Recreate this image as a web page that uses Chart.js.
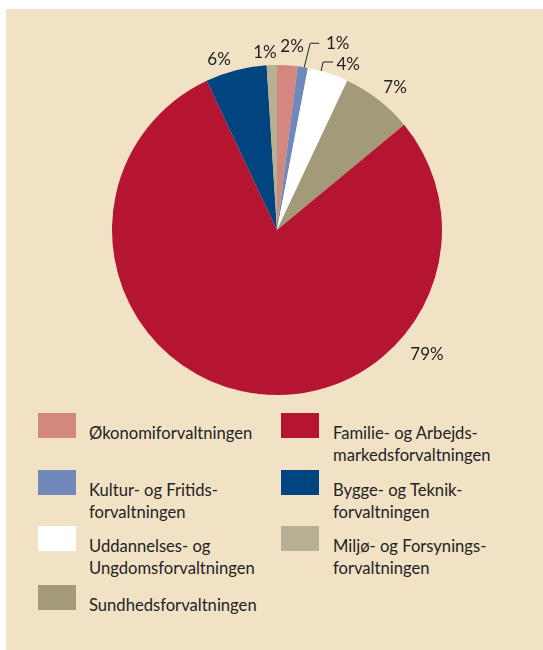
<!DOCTYPE html>
<html>
<head>
<meta charset="utf-8">
<script src="https://cdn.jsdelivr.net/npm/chart.js@4/dist/chart.umd.min.js"></script>
<style>
  html, body { margin: 0; padding: 0; background: #fff; }
  #wrap { position: relative; width: 543px; height: 650px; overflow: hidden; }
  #panel { position: absolute; left: 6px; top: 9px; right: 0; bottom: 0; background: #F1E2C6; }
  #chartBox { position: absolute; left: 0; top: 0; width: 543px; height: 400px; }
  .item { position: absolute; font-family: "Lato", sans-serif; font-size: 16.6px; color: #232323; line-height: 22px; }
  .sw { position: absolute; width: 38px; height: 25px; }
  .txt { position: absolute; white-space: nowrap; }
</style>
</head>
<body>
<div id="wrap">
  <div id="panel"></div>
  <div id="chartBox"><canvas id="pie"></canvas></div>
  <div id="legend"></div>
</div>
<script>
// kategorier i urets retning fra toppen
const categories = [
    ["Økonomiforvaltningen"],
    ["Kultur- og Fritids-", "forvaltningen"],
    ["Uddannelses- og", "Ungdomsforvaltningen"],
    ["Sundhedsforvaltningen"],
    ["Familie- og Arbejds-", "markedsforvaltningen"],
    ["Bygge- og Teknik-", "forvaltningen"],
    ["Miljø- og Forsynings-", "forvaltningen"]
];
const shares = [2, 1, 4, 7, 79, 6, 1];
const percentLabels = ["2%", "1%", "4%", "7%", "79%", "6%", "1%"];
const colors = ["#D4877E", "#7089BA", "#FFFFFF", "#A39A79", "#B51531", "#004580", "#B8B095"];

// label placering: vinkel (grader fra top) og afstand i forhold til radius
const labelPlace = [
    { a: 4.7, r: 1.115 },
    { a: 18.0, r: 1.19, leader: { a: 9.5, dx: 6, dy: -24, h: 9 } },
    { a: 23.3, r: 1.09, leader: { a: 15.5, dx: 2, dy: -9, h: 10 } },
    { a: 39.7, r: 1.12 },
    { a: 129.6, r: 1.18 },
    { a: -18.8, r: 1.09 },
    { a: -3.9, r: 1.08 }
];

const pieLabels = {
    id: "pieLabels",
    afterDraw(chart) {
        const ctx = chart.ctx;
        const arc = chart.getDatasetMeta(0).data[0];
        const cx = arc.x, cy = arc.y, R = arc.outerRadius;
        ctx.save();
        ctx.font = "17px Lato, sans-serif";
        ctx.fillStyle = "#232323";
        ctx.textAlign = "center";
        ctx.textBaseline = "middle";
        percentLabels.forEach((t, i) => {
            const p = labelPlace[i];
            const rad = p.a * Math.PI / 180;
            ctx.fillText(t, cx + Math.sin(rad) * R * p.r, cy - Math.cos(rad) * R * p.r);
            if (p.leader) {
                const l = p.leader;
                const lr = l.a * Math.PI / 180;
                const x0 = cx + Math.sin(lr) * R, y0 = cy - Math.cos(lr) * R;
                ctx.beginPath();
                ctx.strokeStyle = "#232323";
                ctx.lineWidth = 1;
                ctx.moveTo(x0, y0);
                ctx.lineTo(x0 + l.dx, y0 + l.dy);
                ctx.lineTo(x0 + l.dx + l.h, y0 + l.dy);
                ctx.stroke();
            }
        });
        ctx.restore();
    }
};

new Chart(document.getElementById("pie"), {
    type: "pie",
    data: {
        labels: categories.map(c => c.join(" ")),
        datasets: [{
            data: shares,
            backgroundColor: colors,
            borderWidth: 0
        }]
    },
    options: {
        responsive: true,
        maintainAspectRatio: false,
        animation: false,
        layout: { padding: { left: 112, right: 101, top: 65, bottom: 5 } },
        plugins: {
            legend: { display: false },
            tooltip: { enabled: false }
        }
    },
    plugins: [pieLabels]
});

// legende i to kolonner
const legend = document.getElementById("legend");
const colX = [[38, 89], [281, 333]];
const rowY = [413, 470, 526, 585];
categories.forEach((lines, i) => {
    const col = i < 4 ? 0 : 1;
    const row = i < 4 ? i : i - 4;
    const item = document.createElement("div");
    item.className = "item";
    item.style.left = "0px";
    item.style.top = "0px";
    const sw = document.createElement("div");
    sw.className = "sw";
    sw.style.left = colX[col][0] + "px";
    sw.style.top = rowY[row] + "px";
    sw.style.background = colors[i];
    const txt = document.createElement("div");
    txt.className = "txt";
    txt.style.left = colX[col][1] + "px";
    txt.style.top = (rowY[row] + 9) + "px";
    txt.innerHTML = lines.join("<br>");
    item.appendChild(sw);
    item.appendChild(txt);
    legend.appendChild(item);
});
</script>
</body>
</html>
